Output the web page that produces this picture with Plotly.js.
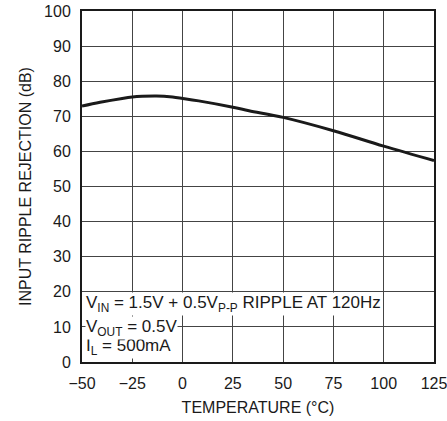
<!DOCTYPE html>
<html>
<head>
<meta charset="utf-8">
<script src="https://cdn.plot.ly/plotly-3.0.1.min.js"></script>
<style>html,body{margin:0;padding:0;background:#fff;}#chart{width:447px;height:421px;}</style>
</head>
<body>
<div id="chart"></div>
<script>
var temperature = [-50, -41, -30, -25, -20, -13, -5, 0, 8, 25, 33, 50, 75, 100, 125];
var rejection   = [72.9, 74.0, 75.1, 75.5, 75.7, 75.8, 75.5, 75.1, 74.4, 72.6, 71.6, 69.7, 65.9, 61.5, 57.4];
var xTicks = [-50, -25, 0, 25, 50, 75, 100, 125];
var xTickLabels = ['\u221250', '\u221225', '0', '25', '50', '75', '100', '125'];
var yTicks = [0, 10, 20, 30, 40, 50, 60, 70, 80, 90, 100];
var notes = [
  'V<sub>IN</sub> = 1.5V + 0.5V<sub>P-P</sub> RIPPLE AT 120Hz',
  'V<sub>OUT</sub> = 0.5V',
  'I<sub>L</sub> = 500mA'
];
var noteY = [16.4, 9.6, 4.2];

var axisFont = '"Liberation Sans", Arial, Helvetica, sans-serif';
var noteFont = '"Liberation Sans Narrow", "Arial Narrow", "Liberation Sans", sans-serif';

var trace = {
  x: temperature, y: rejection, type: 'scatter', mode: 'lines',
  line: {color: '#1a1a1a', width: 3, shape: 'spline', smoothing: 1},
  hoverinfo: 'none'
};

// draw bottom line first so upper lines (with subscripts) sit on top
var annotations = [];
for (var i = notes.length - 1; i >= 0; i--) {
  annotations.push({
    text: notes[i], x: -50, y: noteY[i], xref: 'x', yref: 'y',
    xanchor: 'left', yanchor: 'middle', showarrow: false,
    xshift: 3, bgcolor: '#ffffff', borderpad: 0,
    font: {family: noteFont, size: 17, color: '#1a1a1a'}
  });
}

var layout = {
  width: 447, height: 421,
  margin: {l: 82, r: 13, t: 11, b: 59},
  paper_bgcolor: '#ffffff', plot_bgcolor: '#ffffff',
  showlegend: false,
  font: {family: axisFont, size: 16, color: '#1a1a1a'},
  xaxis: {
    range: [-50, 125], tickvals: xTicks, ticktext: xTickLabels,
    showgrid: true, gridcolor: '#444444', gridwidth: 1,
    showline: true, linecolor: '#1a1a1a', linewidth: 2, mirror: true,
    zeroline: false, ticks: '', ticklen: 0, ticklabelstandoff: 6,
    ticklabeloverflow: 'allow',
    tickfont: {family: axisFont, size: 16, color: '#1a1a1a'},
    title: {text: 'TEMPERATURE (\u00b0C)', font: {family: axisFont, size: 16, color: '#1a1a1a'}, standoff: 11},
    fixedrange: true
  },
  yaxis: {
    range: [0, 100], tickvals: yTicks,
    showgrid: true, gridcolor: '#444444', gridwidth: 1,
    showline: true, linecolor: '#1a1a1a', linewidth: 2, mirror: true,
    zeroline: false, ticks: '', ticklen: 0, ticklabelstandoff: 6,
    ticklabeloverflow: 'allow',
    tickfont: {family: axisFont, size: 16, color: '#1a1a1a'},
    title: {text: 'INPUT RIPPLE REJECTION (dB)', font: {family: axisFont, size: 16, color: '#1a1a1a'}, standoff: 8},
    fixedrange: true
  },
  annotations: annotations
};

Plotly.newPlot('chart', [trace], layout, {staticPlot: true, displayModeBar: false});
</script>
</body>
</html>
